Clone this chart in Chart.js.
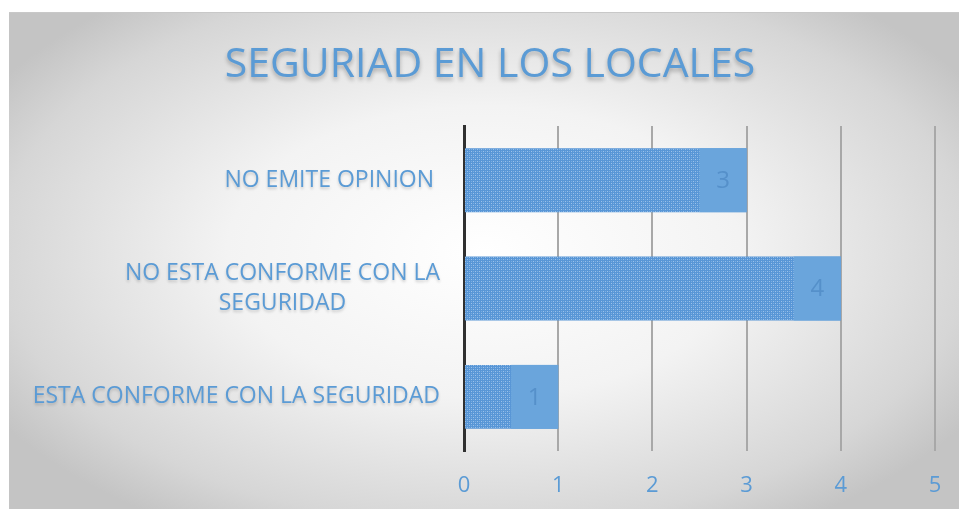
<!DOCTYPE html>
<html>
<head>
<meta charset="utf-8">
<script src="https://cdn.jsdelivr.net/npm/chart.js@4.4.1/dist/chart.umd.min.js"></script>
<style>
  html, body { margin: 0; padding: 0; background: #fff; }
  #wrap {
    position: absolute; left: 9px; top: 12px; width: 950px; height: 497px;
    border-top: 1px solid #c8c8c8;
    background: radial-gradient(ellipse 60% 65% at 50% 48%, #ffffff 0%, #f3f3f3 45%, #d6d6d6 85%, #c4c4c4 100%);
  }
</style>
</head>
<body>
<div id="wrap"><canvas id="chart" width="950" height="496"></canvas></div>
<script>
const title = 'SEGURIAD EN LOS LOCALES';
const categories = [
    ['NO EMITE OPINION '],
    ['NO ESTA CONFORME CON LA', 'SEGURIDAD'],
    ['ESTA CONFORME CON LA SEGURIDAD']
];
const values = [3, 4, 1];
const xTicks = [0, 1, 2, 3, 4, 5];

const BLUE = '#5b9bd5';

// dotted texture like the original bar fill
function makePattern() {
    const c = document.createElement('canvas');
    c.width = 4; c.height = 4;
    const p = c.getContext('2d');
    p.fillStyle = '#5896d6';
    p.fillRect(0, 0, 4, 4);
    p.fillStyle = '#9cc2ea';
    p.fillRect(0, 0, 1, 1);
    p.fillRect(2, 2, 1, 1);
    p.fillStyle = '#7aaee2';
    p.fillRect(2, 0, 1, 1);
    p.fillRect(0, 2, 1, 1);
    return p.createPattern(c, 'repeat');
}

const textPlugin = {
    id: 'textPlugin',
    afterDatasetsDraw(chart) {
        const { ctx, scales: { x } } = chart;
        const meta = chart.getDatasetMeta(0);
        const half = x.getPixelForValue(0.5) - x.getPixelForValue(0);
        ctx.save();
        meta.data.forEach((bar, i) => {
            const top = bar.y - bar.height / 2;
            ctx.fillStyle = '#6aa5dc';
            ctx.fillRect(bar.x - half, top, half, bar.height);
            ctx.fillStyle = '#5590ca';
            ctx.font = '24px "Open Sans"';
            ctx.textAlign = 'center';
            ctx.textBaseline = 'middle';
            ctx.fillText(String(values[i]), bar.x - half / 2, bar.y + 1);
        });
        ctx.restore();
    },
    afterDraw(chart) {
        const { ctx, scales: { y } } = chart;
        ctx.save();
        ctx.shadowColor = 'rgba(0,0,0,0.28)';
        ctx.shadowBlur = 4;
        ctx.shadowOffsetY = 3;
        ctx.fillStyle = BLUE;
        ctx.textBaseline = 'middle';
        ctx.textAlign = 'center';
        ctx.font = '41px "Open Sans"';
        ctx.fillText(title, 481, 52);

        ctx.shadowBlur = 3;
        ctx.shadowOffsetY = 2;
        ctx.shadowColor = 'rgba(0,0,0,0.18)';
        ctx.font = '23px "Open Sans"';
        const right = 431;
        categories.forEach((lines, i) => {
            const cy = y.getPixelForValue(i);
            const w = Math.max(...lines.map(l => ctx.measureText(l).width));
            const cx = right - w / 2;
            const lh = 30;
            lines.forEach((l, j) => {
                ctx.fillText(l, cx, cy + (j - (lines.length - 1) / 2) * lh);
            });
        });
        ctx.restore();
    }
};

new Chart(document.getElementById('chart'), {
    type: 'bar',
    data: {
        labels: categories,
        datasets: [{
            data: values,
            backgroundColor: makePattern(),
            borderWidth: 0,
            barPercentage: 0.59,
            categoryPercentage: 1
        }]
    },
    options: {
        indexAxis: 'y',
        responsive: false,
        animation: false,
        layout: { padding: { top: 113, right: 24, bottom: 10, left: 0 } },
        plugins: {
            legend: { display: false },
            title: { display: false },
            tooltip: { enabled: false }
        },
        scales: {
            x: {
                min: 0,
                max: 5,
                afterBuildTicks: (s) => { s.ticks = xTicks.map(v => ({ value: v })); },
                afterFit: (s) => { s.height = 48; s.paddingRight = 0; s.paddingLeft = 0; },
                border: { display: false },
                grid: {
                    drawTicks: false,
                    lineWidth: 2,
                    color: (c) => c.tick && c.tick.value === 0 ? 'rgba(0,0,0,0)' : '#a8a8a8'
                },
                ticks: {
                    padding: 22,
                    color: BLUE,
                    font: { family: 'Open Sans', size: 22 }
                }
            },
            y: {
                border: { display: true, color: '#303030', width: 3 },
                grid: { display: false },
                ticks: { display: false },
                afterFit: (s) => { s.width = 455; }
            }
        }
    },
    plugins: [textPlugin]
});
</script>
</body>
</html>
